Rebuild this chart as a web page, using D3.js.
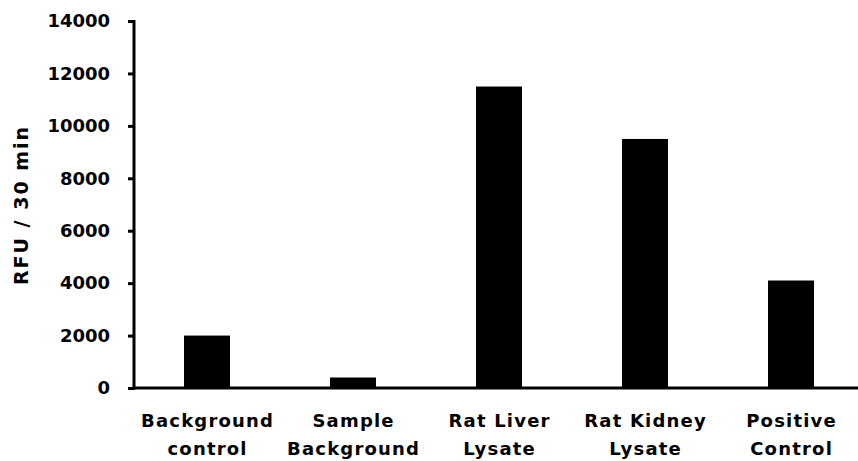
<!DOCTYPE html>
<html>
<head>
<meta charset="utf-8">
<script src="https://cdn.jsdelivr.net/npm/d3@7"></script>
<style>
  html, body { margin: 0; padding: 0; background: #fff; }
  svg { display: block; }
  text { font-family: "DejaVu Sans", sans-serif; font-weight: bold; fill: #000; }
</style>
</head>
<body>
<svg id="chart" width="858" height="461"></svg>
<script>
const categories = [["Background", "control"], ["Sample", "Background"], ["Rat Liver", "Lysate"], ["Rat Kidney", "Lysate"], ["Positive", "Control"]];
const values = [2000, 400, 11500, 9500, 4100];
const yTicks = [0, 2000, 4000, 6000, 8000, 10000, 12000, 14000];
const yLabel = "RFU / 30 min";

const svg = d3.select("#chart");
const x = d3.scaleBand().domain(d3.range(categories.length)).range([134, 864]).paddingInner(0.685).paddingOuter(0.3425);
const y = d3.scaleLinear().domain([0, 14000]).range([388, 21]);

// bars
svg.selectAll("rect.bar").data(values).enter().append("rect")
  .attr("class", "bar")
  .attr("x", (d, i) => x(i))
  .attr("width", x.bandwidth())
  .attr("y", d => y(d))
  .attr("height", d => y(0) - y(d))
  .attr("fill", "#000");

// y axis
const yAxis = d3.axisLeft(y).tickValues(yTicks).tickFormat(d3.format("d")).tickSize(6).tickPadding(18);
const gy = svg.append("g").attr("transform", "translate(134,0)").call(yAxis);
gy.select(".domain").attr("stroke", "#000").attr("stroke-width", 3).attr("d", "M0," + (y(14000) - 1) + "V" + (y(0) + 1.5));
gy.selectAll(".tick line").attr("stroke", "#000").attr("stroke-width", 3);
gy.selectAll(".tick text").style("font-size", "18px").style("font-family", "DejaVu Sans, sans-serif").style("font-weight", "bold");

// x axis
svg.append("line").attr("x1", 132.5).attr("x2", 858).attr("y1", y(0)).attr("y2", y(0)).attr("stroke", "#000").attr("stroke-width", 3);

// x labels
categories.forEach((lines, i) => {
  const cx = x(i) + x.bandwidth() / 2;
  const t = svg.append("text").attr("text-anchor", "middle").style("font-size", "18px").style("letter-spacing", "1.2px");
  lines.forEach((ln, j) => {
    t.append("tspan").attr("x", cx + 0.6).attr("y", 427 + j * 28).text(ln);
  });
});

// y label
svg.append("text").attr("text-anchor", "middle").attr("transform", "translate(28,205) rotate(-90)")
  .style("font-size", "19px").style("letter-spacing", "2px").text(yLabel);
</script>
</body>
</html>
